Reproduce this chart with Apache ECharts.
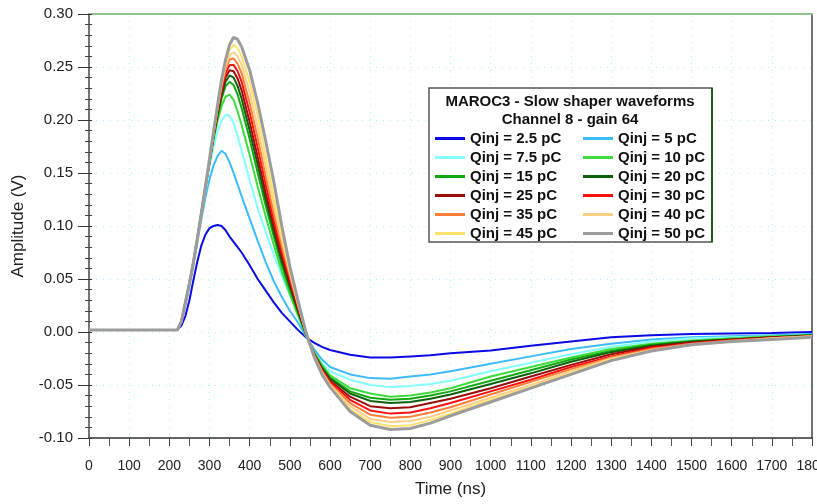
<!DOCTYPE html>
<html>
<head>
<meta charset="utf-8">
<script src="https://cdn.jsdelivr.net/npm/echarts@6.0.0/dist/echarts.min.js"></script>
<style>html,body{margin:0;padding:0;background:#fff}#c{width:817px;height:504px}</style>
</head>
<body>
<div id="c"></div>
<script>
// time axis (ns)
var time = [0,100,200,220,230,240,250,260,270,280,290,300,310,320,330,340,350,360,370,380,400,420,440,460,480,500,520,540,560,580,600,650,700,750,800,850,900,1000,1100,1200,1300,1400,1500,1600,1700,1800];

// amplitudes (V) per injected charge
var q2_5 = [0.002,0.002,0.002,0.002, 0.006,0.015,0.030,0.049,0.067,0.082,0.092,0.098,0.100,0.101,0.100,0.096,0.090,0.085,0.080,0.075, 0.063,0.050,0.039,0.028,0.018,0.010,0.002,-0.005,-0.010,-0.014,-0.017, -0.0215,-0.024,-0.024,-0.023,-0.022,-0.020, -0.0175,-0.013,-0.009,-0.005,-0.003,-0.002,-0.0015,-0.001,0.000];
var q5 = [0.002,0.002,0.002,0.002, 0.009,0.025,0.043,0.063,0.085,0.107,0.127,0.144,0.157,0.166,0.171,0.168,0.160,0.150,0.139,0.128, 0.107,0.086,0.066,0.048,0.033,0.020,0.009,-0.004,-0.016,-0.026,-0.033, -0.040,-0.0435,-0.044,-0.042,-0.040,-0.037, -0.030,-0.023,-0.016,-0.011,-0.007,-0.005,-0.004,-0.003,-0.002];
var q7_5 = [0.002,0.002,0.002,0.002, 0.010,0.027,0.045,0.065,0.088,0.111,0.134,0.156,0.174,0.189,0.199,0.205,0.204,0.197,0.185,0.171, 0.143,0.117,0.094,0.073,0.053,0.035,0.017,-0.003,-0.019,-0.030,-0.037, -0.045,-0.050,-0.052,-0.051,-0.049,-0.046, -0.037,-0.029,-0.021,-0.014,-0.009,-0.006,-0.005,-0.004,-0.003];
var q10 = [0.002,0.002,0.002,0.002, 0.010,0.028,0.046,0.066,0.089,0.112,0.136,0.159,0.181,0.199,0.213,0.222,0.224,0.219,0.208,0.195, 0.167,0.137,0.109,0.082,0.057,0.036,0.016,-0.003,-0.019,-0.031,-0.041, -0.053,-0.058,-0.061,-0.060,-0.057,-0.053, -0.042,-0.033,-0.024,-0.016,-0.011,-0.008,-0.006,-0.004,-0.003];
var q15 = [0.002,0.002,0.002,0.002, 0.010,0.028,0.046,0.066,0.089,0.113,0.137,0.160,0.183,0.203,0.220,0.232,0.236,0.233,0.224,0.211, 0.182,0.150,0.119,0.090,0.063,0.040,0.019,-0.002,-0.020,-0.033,-0.043, -0.056,-0.062,-0.064,-0.063,-0.060,-0.056, -0.046,-0.036,-0.026,-0.018,-0.012,-0.009,-0.007,-0.005,-0.003];
var q20 = [0.002,0.002,0.002,0.002, 0.010,0.028,0.046,0.066,0.089,0.113,0.137,0.160,0.184,0.205,0.223,0.236,0.242,0.240,0.232,0.220, 0.190,0.158,0.125,0.095,0.067,0.043,0.020,-0.002,-0.020,-0.034,-0.044, -0.058,-0.065,-0.067,-0.066,-0.063,-0.059, -0.049,-0.039,-0.028,-0.019,-0.013,-0.009,-0.007,-0.005,-0.003];
var q25 = [0.002,0.002,0.002,0.002, 0.010,0.028,0.046,0.066,0.089,0.113,0.137,0.161,0.185,0.207,0.226,0.240,0.247,0.246,0.239,0.228, 0.198,0.165,0.131,0.100,0.071,0.046,0.022,-0.001,-0.021,-0.035,-0.046, -0.061,-0.070,-0.072,-0.071,-0.067,-0.063, -0.053,-0.042,-0.031,-0.021,-0.014,-0.010,-0.007,-0.005,-0.004];
var q30 = [0.002,0.002,0.002,0.002, 0.010,0.028,0.046,0.066,0.089,0.113,0.137,0.161,0.186,0.209,0.229,0.244,0.252,0.252,0.246,0.236, 0.207,0.174,0.139,0.106,0.076,0.050,0.024,-0.001,-0.021,-0.036,-0.047, -0.064,-0.074,-0.077,-0.076,-0.072,-0.067, -0.056,-0.045,-0.033,-0.023,-0.015,-0.011,-0.008,-0.006,-0.004];
var q35 = [0.002,0.002,0.002,0.002, 0.010,0.028,0.046,0.066,0.089,0.113,0.137,0.162,0.187,0.211,0.232,0.248,0.257,0.258,0.253,0.244, 0.216,0.183,0.147,0.112,0.081,0.053,0.026,0.000,-0.022,-0.037,-0.049, -0.067,-0.078,-0.081,-0.080,-0.076,-0.071, -0.059,-0.047,-0.035,-0.024,-0.016,-0.011,-0.008,-0.006,-0.004];
var q40 = [0.002,0.002,0.002,0.002, 0.010,0.028,0.046,0.066,0.089,0.113,0.137,0.162,0.188,0.212,0.234,0.251,0.261,0.264,0.260,0.252, 0.226,0.193,0.156,0.120,0.087,0.056,0.027,0.000,-0.022,-0.038,-0.050, -0.070,-0.082,-0.085,-0.084,-0.080,-0.074, -0.062,-0.050,-0.037,-0.025,-0.017,-0.012,-0.009,-0.006,-0.004];
var q45 = [0.002,0.002,0.002,0.002, 0.010,0.028,0.046,0.066,0.089,0.113,0.137,0.162,0.188,0.213,0.236,0.254,0.266,0.271,0.268,0.260, 0.236,0.204,0.166,0.128,0.092,0.058,0.028,0.000,-0.022,-0.039,-0.051, -0.073,-0.085,-0.089,-0.088,-0.083,-0.077, -0.064,-0.052,-0.039,-0.026,-0.018,-0.012,-0.009,-0.007,-0.005];
var q50 = [0.002,0.002,0.002,0.002, 0.010,0.028,0.046,0.066,0.089,0.113,0.138,0.163,0.189,0.214,0.238,0.257,0.271,0.278,0.276,0.269, 0.247,0.216,0.180,0.142,0.100,0.062,0.030,0.000,-0.023,-0.040,-0.052, -0.075,-0.088,-0.092,-0.091,-0.086,-0.079, -0.066,-0.053,-0.040,-0.027,-0.018,-0.012,-0.009,-0.007,-0.005];

var seriesNames = ['Qinj = 2.5 pC','Qinj = 5 pC','Qinj = 7.5 pC','Qinj = 10 pC','Qinj = 15 pC','Qinj = 20 pC','Qinj = 25 pC','Qinj = 30 pC','Qinj = 35 pC','Qinj = 40 pC','Qinj = 45 pC','Qinj = 50 pC'];
var seriesValues = [q2_5,q5,q7_5,q10,q15,q20,q25,q30,q35,q40,q45,q50];

var chartTitle = 'MAROC3 - Slow shaper waveforms\nChannel 8 - gain 64';
var xName = 'Time (ns)';
var yName = 'Amplitude (V)';

// styles
var colors = ['#0a0ae6','#3cbcff','#85ffff','#3ddc3d','#10aa10','#0b620b','#990c0c','#ff1010','#ff7f3a','#ffcf85','#ffe26e','#9c9c9c'];
var widths = [2,2,2,2,2,2,2,2,2,2,2,3];

var FONT = 'Liberation Sans, Arial, Helvetica, sans-serif';

var series = seriesNames.map(function (n, i) {
  return {
    name: n, type: 'line', xAxisIndex: 0, yAxisIndex: 0,
    data: time.map(function (t, k) { return [t, seriesValues[i][k]]; }),
    showSymbol: false, symbol: 'none', smooth: false,
    color: colors[i],
    lineStyle: { color: colors[i], width: widths[i] },
    z: 2 + i * 0.01
  };
});

var gridLine = { show: true, lineStyle: { color: '#8cefff', width: 1, type: [1, 6], opacity: 0.8 } };

var legendCommon = {
  orient: 'vertical', padding: 0, itemGap: 0, itemWidth: 30, itemHeight: 3, icon: 'rect',
  textStyle: { fontFamily: FONT, fontSize: 15, fontWeight: 'bold', color: '#111', lineHeight: 19 },
  selectedMode: false, z: 10
};

var option = {
  animation: false,
  backgroundColor: '#fff',
  grid: { left: 89, right: 5, top: 14, bottom: 66, containLabel: false, outerBoundsMode: 'none' },
  title: {
    text: chartTitle, left: 570, top: 93, textAlign: 'center', padding: 0, z: 10,
    textStyle: { fontFamily: FONT, fontSize: 15, fontWeight: 'bold', color: '#111', lineHeight: 18 }
  },
  legend: [
    Object.assign({ left: 435, top: 129, data: [seriesNames[0], seriesNames[2], seriesNames[4], seriesNames[6], seriesNames[8], seriesNames[10]] }, legendCommon),
    Object.assign({ left: 583, top: 129, data: [seriesNames[1], seriesNames[3], seriesNames[5], seriesNames[7], seriesNames[9], seriesNames[11]] }, legendCommon)
  ],
  graphic: [
    { type: 'rect', z: 8, shape: { x: 429, y: 88, width: 283, height: 154 }, style: { fill: '#fff', stroke: '#555', lineWidth: 1.5 } },
    { type: 'line', z: 9, shape: { x1: 712, y1: 88, x2: 712, y2: 242 }, style: { stroke: '#1d5e1d', lineWidth: 2 } }
  ],
  xAxis: [
    {
      type: 'value', min: 0, max: 1800, interval: 100, position: 'bottom',
      name: xName, nameLocation: 'middle', nameGap: 43,
      nameTextStyle: { fontFamily: FONT, fontSize: 17, color: '#222' },
      axisLine: { show: true, onZero: false, lineStyle: { color: '#333', width: 1.5 } },
      axisTick: { show: true, length: 8, lineStyle: { color: '#444' } },
      minorTick: { show: true, splitNumber: 2, length: 8, lineStyle: { color: '#555' } },
      axisLabel: { fontFamily: FONT, fontSize: 14, color: '#222', margin: 21, showMaxLabel: true, hideOverlap: false,
        formatter: function (v) { return String(v); } },
      splitLine: gridLine
    },
    {
      type: 'value', min: 0, max: 1800, position: 'top',
      axisLine: { show: true, onZero: false, lineStyle: { color: '#8fc48f', width: 2 } },
      axisTick: { show: false }, axisLabel: { show: false }, splitLine: { show: false }
    }
  ],
  yAxis: [
    {
      type: 'value', min: -0.1, max: 0.3, interval: 0.05, position: 'left',
      name: yName, nameLocation: 'middle', nameGap: 62, nameRotate: 90,
      nameTextStyle: { fontFamily: FONT, fontSize: 17, color: '#222' },
      axisLine: { show: true, onZero: false, lineStyle: { color: '#444', width: 1.5 } },
      axisTick: { show: true, length: 11, lineStyle: { color: '#333' } },
      minorTick: { show: true, splitNumber: 5, length: 4, lineStyle: { color: '#444' } },
      axisLabel: { fontFamily: FONT, fontSize: 15, color: '#222', margin: 16, formatter: function (v) { return v.toFixed(2); } },
      splitLine: gridLine
    },
    {
      type: 'value', min: -0.1, max: 0.3, interval: 0.05, position: 'right',
      axisLine: { show: true, onZero: false, lineStyle: { color: '#444', width: 1.5 } },
      axisTick: { show: false }, axisLabel: { show: false }, splitLine: { show: false }
    },
    {
      type: 'value', min: -0.1, max: 0.3, interval: 0.05, position: 'left',
      axisLine: { show: false },
      axisTick: { show: true, inside: true, length: 3, lineStyle: { color: '#333' } },
      minorTick: { show: true, splitNumber: 5, length: 3, lineStyle: { color: '#444' } },
      axisLabel: { show: false }, splitLine: { show: false }
    }
  ],
  series: series
};

var chart = echarts.init(document.getElementById('c'), null, { renderer: 'canvas' });
chart.setOption(option);
</script>
</body>
</html>
